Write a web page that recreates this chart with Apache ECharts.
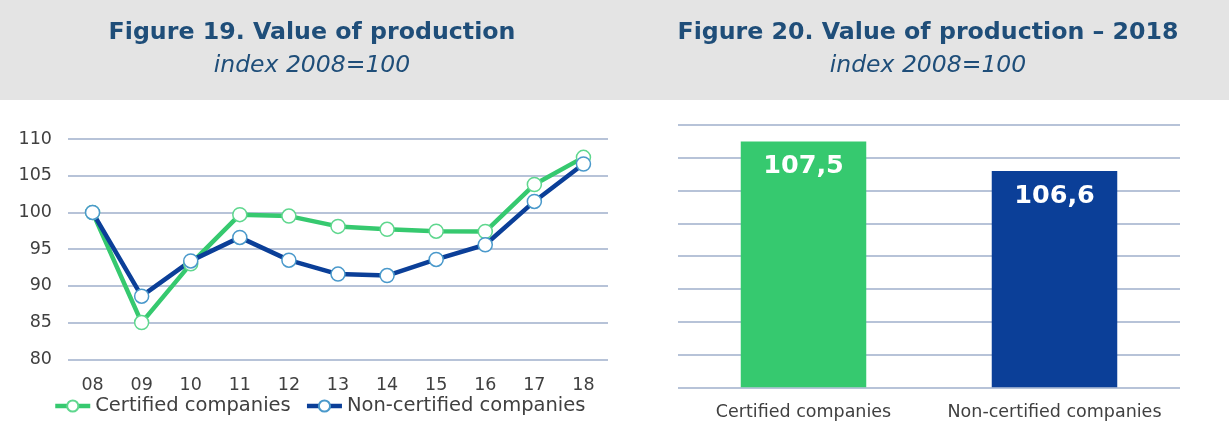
<!DOCTYPE html>
<html>
<head>
<meta charset="utf-8">
<script src="https://cdn.jsdelivr.net/npm/echarts@6/dist/echarts.min.js"></script>
<style>
html,body{margin:0;padding:0;background:#fff;}
#chart{width:1229px;height:428px;}
</style>
</head>
<body>
<div id="chart"></div>
<script>
// ---- data ----
const years = ['08','09','10','11','12','13','14','15','16','17','18'];
const certified = [100, 85.0, 93.0, 99.7, 99.5, 98.1, 97.7, 97.45, 97.4, 103.8, 107.5];
const nonCertified = [100, 88.6, 93.4, 96.6, 93.5, 91.6, 91.4, 93.6, 95.6, 101.5, 106.6];
const seriesNames = ['Certified companies', 'Non-certified companies'];
const groups2018 = ['Certified companies', 'Non-certified companies'];
const values2018 = [107.5, 106.6];
const titles = ['Figure 19. Value of production', 'Figure 20. Value of production \u2013 2018'];
const subtitles = ['index 2008=100', 'index 2008=100'];

// ---- style ----
const GREEN = '#36c96f';
const BLUE = '#0b3f98';
const TITLE_COLOR = '#1f4e79';
const TEXT = '#404040';
const GRID_LINE = '#b7c3d8';
const FONT = 'DejaVu Sans';

const chart = echarts.init(document.getElementById('chart'), null, {renderer: 'canvas'});

const titleCommon = {padding: 0, textAlign: 'center'};
const option = {
  animation: false,
  textStyle: {fontFamily: FONT},
  graphic: [{
    type: 'rect', left: 0, top: 0, z: -10,
    shape: {width: 1229, height: 100},
    style: {fill: '#e4e4e4'}
  }],
  title: [
    Object.assign({text: titles[0], left: 312, top: 21,
      textStyle: {fontFamily: FONT, fontSize: 23.7, fontWeight: 'bold', color: TITLE_COLOR, lineHeight: 24}}, titleCommon),
    Object.assign({text: subtitles[0], left: 312, top: 54,
      textStyle: {fontFamily: FONT, fontSize: 23.5, fontStyle: 'italic', fontWeight: 'normal', color: TITLE_COLOR, lineHeight: 24}}, titleCommon),
    Object.assign({text: titles[1], left: 928, top: 21,
      textStyle: {fontFamily: FONT, fontSize: 23.7, fontWeight: 'bold', color: TITLE_COLOR, lineHeight: 24}}, titleCommon),
    Object.assign({text: subtitles[1], left: 928, top: 54,
      textStyle: {fontFamily: FONT, fontSize: 23.5, fontStyle: 'italic', fontWeight: 'normal', color: TITLE_COLOR, lineHeight: 24}}, titleCommon)
  ],
  legend: {
    left: 53, top: 396,
    itemWidth: 35, itemHeight: 14, itemGap: 14,
    padding: 0,
    lineStyle: {width: 4.5},
    textStyle: {fontFamily: FONT, fontSize: 19.5, color: TEXT},
    data: seriesNames
  },
  grid: [
    {left: 68, width: 540, top: 139, height: 220.3, containLabel: false},
    {left: 678, width: 502, top: 125, height: 262.3, containLabel: false}
  ],
  xAxis: [
    {
      type: 'category', gridIndex: 0, data: years, boundaryGap: true,
      axisLine: {show: false}, axisTick: {show: false},
      axisLabel: {fontFamily: FONT, fontSize: 17.5, color: TEXT, margin: 17, interval: 0}
    },
    {
      type: 'category', gridIndex: 1, data: groups2018, boundaryGap: true,
      axisLine: {show: false}, axisTick: {show: false},
      axisLabel: {fontFamily: FONT, fontSize: 17.5, color: TEXT, margin: 16, interval: 0, hideOverlap: false}
    }
  ],
  yAxis: [
    {
      type: 'value', gridIndex: 0, min: 80, max: 110, interval: 5,
      axisLine: {show: false}, axisTick: {show: false},
      axisLabel: {fontFamily: FONT, fontSize: 17.5, color: TEXT, margin: 16},
      splitLine: {lineStyle: {color: GRID_LINE, width: 2}}
    },
    {
      type: 'value', gridIndex: 1, min: 100, max: 108, interval: 1,
      axisLine: {show: false}, axisTick: {show: false},
      axisLabel: {show: false},
      splitLine: {lineStyle: {color: GRID_LINE, width: 2}}
    }
  ],
  series: [
    {
      name: seriesNames[0], type: 'line', xAxisIndex: 0, yAxisIndex: 0,
      data: certified, symbol: 'circle', symbolSize: 14,
      color: GREEN,
      lineStyle: {color: GREEN, width: 4.5},
      itemStyle: {color: '#ffffff', borderColor: '#5fd78e', borderWidth: 1.5}
    },
    {
      name: seriesNames[1], type: 'line', xAxisIndex: 0, yAxisIndex: 0,
      data: nonCertified, symbol: 'circle', symbolSize: 14,
      color: BLUE,
      lineStyle: {color: BLUE, width: 4.5},
      itemStyle: {color: '#ffffff', borderColor: '#4a99cb', borderWidth: 1.5}
    },
    {
      name: '2018', type: 'bar', xAxisIndex: 1, yAxisIndex: 1,
      barWidth: '50%', clip: true,
      data: values2018.map((v, i) => ({value: v, itemStyle: {color: i === 0 ? GREEN : BLUE}})),
      label: {
        show: true, position: 'insideTop', distance: 12,
        fontFamily: FONT, fontSize: 25.5, fontWeight: 'bold', color: '#ffffff',
        formatter: p => String(p.value).replace('.', ',')
      }
    }
  ]
};
chart.setOption(option);
</script>
</body>
</html>
